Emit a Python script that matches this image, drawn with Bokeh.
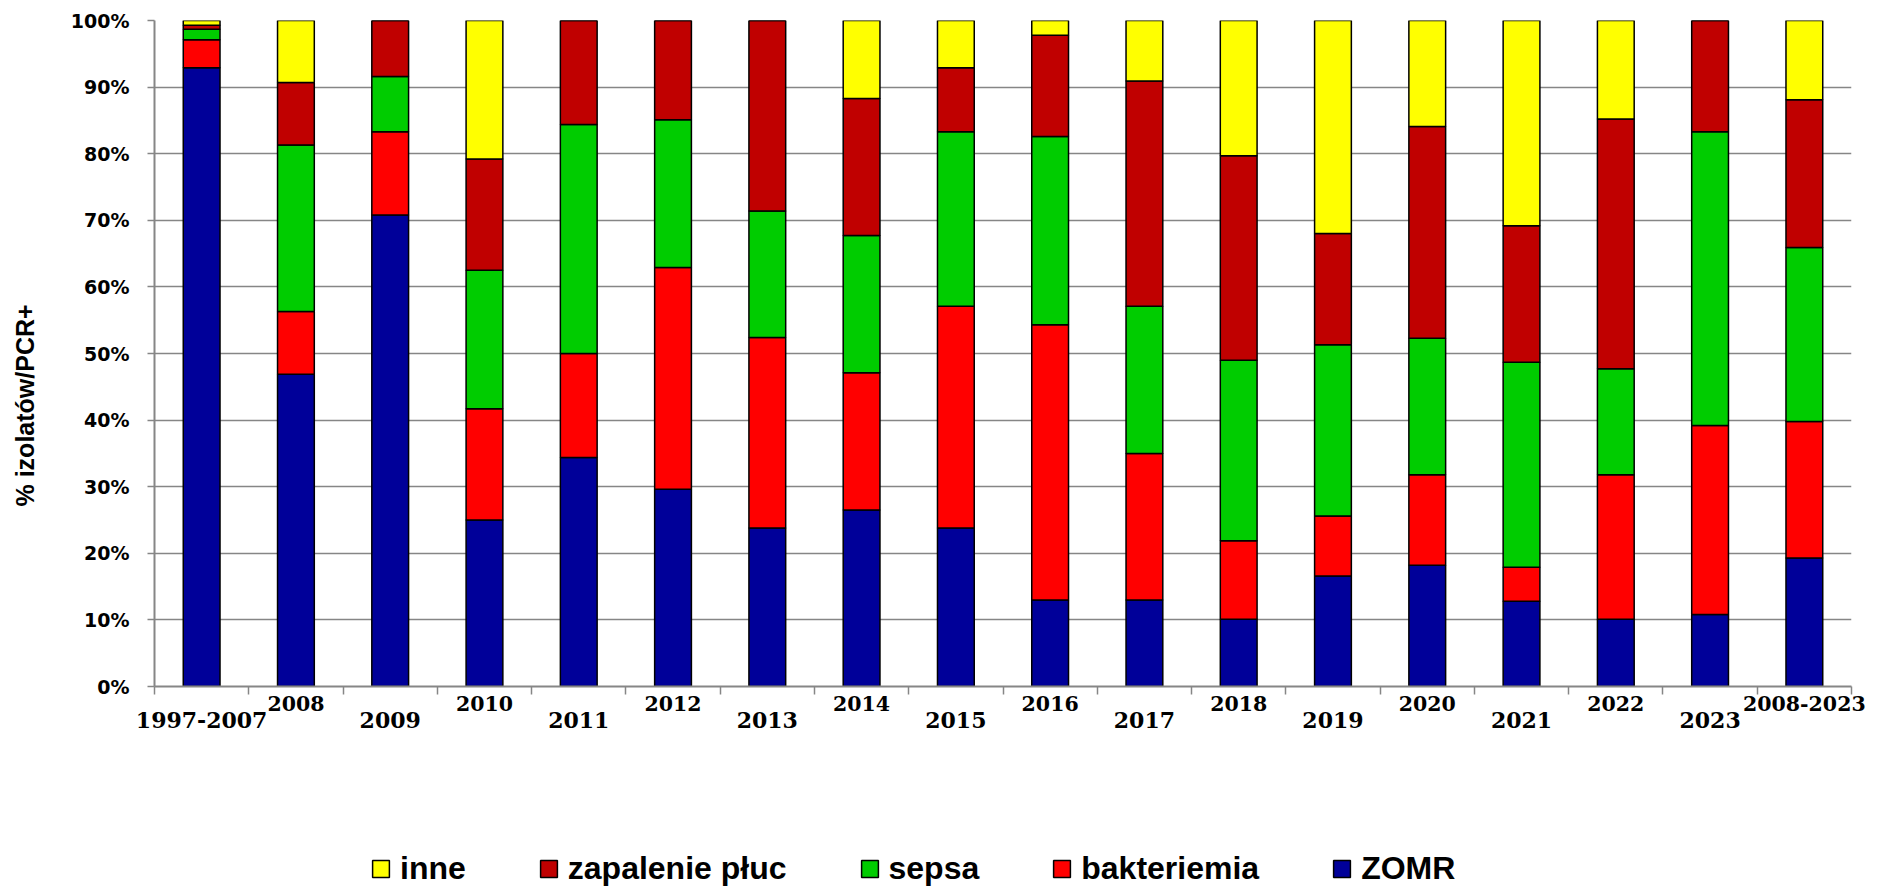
import math
from bokeh.plotting import figure
from bokeh.layouts import column
from bokeh.models import (ColumnDataSource, FixedTicker, LinearAxis, CustomJSTickFormatter,
                          PrintfTickFormatter, Legend, LegendItem, Title, Range1d, Grid)
from bokeh.embed import file_html
from bokeh.resources import INLINE

categories = ["1997-2007", "2008", "2009", "2010", "2011", "2012", "2013", "2014", "2015",
              "2016", "2017", "2018", "2019", "2020", "2021", "2022", "2023", "2008-2023"]

zomr        = [92.9, 46.9, 70.8, 25.0, 34.4, 29.6, 23.8, 26.5, 23.8, 13.0, 13.0, 10.1, 16.6, 18.2, 12.8, 10.1, 10.8, 19.3]
bakteriemia = [4.2,  9.4, 12.5, 16.7, 15.6, 33.3, 28.6, 20.6, 33.3, 41.3, 22.0, 11.8,  9.0, 13.6,  5.1, 21.7, 28.4, 20.5]
sepsa       = [1.6, 25.0,  8.3, 20.8, 34.4, 22.2, 19.0, 20.6, 26.2, 28.3, 22.1, 27.1, 25.7, 20.5, 30.8, 15.9, 44.1, 26.1]
zapalenie   = [0.6,  9.4,  8.4, 16.7, 15.6, 14.9, 28.6, 20.6,  9.6, 15.2, 33.8, 30.7, 16.7, 31.8, 20.5, 37.5, 16.7, 22.2]
inne        = [0.7,  9.3,  0.0, 20.8,  0.0,  0.0,  0.0, 11.7,  7.1,  2.2,  9.1, 20.3, 32.0, 15.9, 30.8, 14.8,  0.0, 11.9]

series_names = ["ZOMR", "bakteriemia", "sepsa", "zapalenie płuc", "inne"]
series_colors = ["#000099", "#FF0000", "#00CC00", "#C00000", "#FFFF00"]
y_ticks = list(range(0, 101, 10))

n = len(categories)
xs = [i + 0.5 for i in range(n)]
source = ColumnDataSource(dict(x=xs, ZOMR=zomr, bakteriemia=bakteriemia, sepsa=sepsa,
                               **{"zapalenie płuc": zapalenie}, inne=inne))

GRAY = "#868686"

p = figure(width=1893, height=760, x_range=Range1d(0, n), y_range=Range1d(0, 100),
           output_backend="svg", toolbar_location=None,
           x_axis_type=None, y_axis_type=None,
           min_border_left=154, min_border_right=42, min_border_top=20, min_border_bottom=74)
p.outline_line_color = None
p.background_fill_color = "white"
p.border_fill_color = "white"

# y axis
yaxis = LinearAxis(ticker=FixedTicker(ticks=y_ticks), formatter=PrintfTickFormatter(format="%d%%"))
yaxis.axis_line_color = GRAY
yaxis.axis_line_width = 2
yaxis.major_tick_line_color = GRAY
yaxis.major_tick_line_width = 1.5
yaxis.major_tick_out = 7
yaxis.major_tick_in = 0
yaxis.minor_tick_line_color = None
yaxis.major_label_text_font = "DejaVu Sans"
yaxis.major_label_text_font_style = "bold"
yaxis.major_label_text_font_size = "19px"
yaxis.major_label_text_color = "black"
yaxis.major_label_standoff = 18
p.add_layout(yaxis, "left")

# invisible spacer axis between the tick labels and the axis title
spacer = LinearAxis(ticker=FixedTicker(ticks=[50]),
                    formatter=CustomJSTickFormatter(code="return '';"))
spacer.axis_line_color = None
spacer.major_tick_line_color = None
spacer.minor_tick_line_color = None
spacer.major_tick_out = 26
spacer.major_tick_in = 0
spacer.major_label_standoff = 0
p.add_layout(spacer, "left")

p.add_layout(Title(text="% izolatów/PCR+", align="left", offset=180, standoff=6,
                   text_font="Liberation Sans", text_font_style="bold", text_font_size="25px",
                   text_color="black"), "left")

p.add_layout(Grid(dimension=1, ticker=yaxis.ticker, grid_line_color=GRAY, grid_line_width=1.5))

fmt = CustomJSTickFormatter(args=dict(labels=categories), code="return labels[Math.floor(tick)];")

# x axis: boundary ticks (minor) + upper row labels
xa = LinearAxis(ticker=FixedTicker(ticks=xs[1::2], minor_ticks=list(range(n + 1))), formatter=fmt)
xa.axis_line_color = GRAY
xa.axis_line_width = 2
xa.major_tick_line_color = None
xa.major_tick_out = 0
xa.major_tick_in = 0
xa.minor_tick_line_color = GRAY
xa.minor_tick_line_width = 1.5
xa.minor_tick_out = 8
xa.minor_tick_in = 0
xa.major_label_standoff = 1
xa.major_label_text_font = "DejaVu Serif"
xa.major_label_text_font_style = "bold"
xa.major_label_text_font_size = "20.5px"
xa.major_label_text_color = "black"
p.add_layout(xa, "below")

# lower row labels
xb = LinearAxis(ticker=FixedTicker(ticks=xs[0::2], minor_ticks=[]), formatter=fmt)
xb.axis_line_color = None
xb.major_tick_line_color = None
xb.minor_tick_line_color = None
xb.major_tick_out = 0
xb.major_tick_in = 0
xb.major_label_standoff = -2
xb.major_label_text_font = "DejaVu Serif"
xb.major_label_text_font_style = "bold"
xb.major_label_text_font_size = "22px"
xb.major_label_text_color = "black"
p.add_layout(xb, "below")

renderers = p.vbar_stack(series_names, x="x", width=0.39, source=source,
                         fill_color=series_colors, line_color="black", line_width=1.5)

# legend strip below the chart (its frame is aligned with the chart's frame)
p2 = figure(width=1893, height=127, x_range=Range1d(0, 1), y_range=Range1d(0, 1),
            output_backend="svg", toolbar_location=None,
            x_axis_type=None, y_axis_type=None,
            min_border_left=154, min_border_right=42, min_border_top=0, min_border_bottom=0)
p2.outline_line_color = None
p2.background_fill_color = "white"
p2.border_fill_color = "white"

proxies = []
for col in series_colors:
    # zero-size swatch sources for the legend only
    proxies.append(p2.vbar(x=[0.5], top=[0], bottom=[0], width=0, fill_color=col,
                           line_color="black", line_width=1.5))

items = [LegendItem(label=name, renderers=[r]) for name, r in zip(series_names, proxies)][::-1]
legend = Legend(items=items, orientation="horizontal", location=(216, 0),
                glyph_width=21, glyph_height=21, label_standoff=9, spacing=72,
                padding=0, margin=0, border_line_color=None, background_fill_alpha=0,
                label_text_font="Liberation Sans", label_text_font_style="bold",
                label_text_font_size="32px", label_text_color="black")
p2.add_layout(legend)

open("out.html", "w").write(file_html(column(p, p2, spacing=0), INLINE))
